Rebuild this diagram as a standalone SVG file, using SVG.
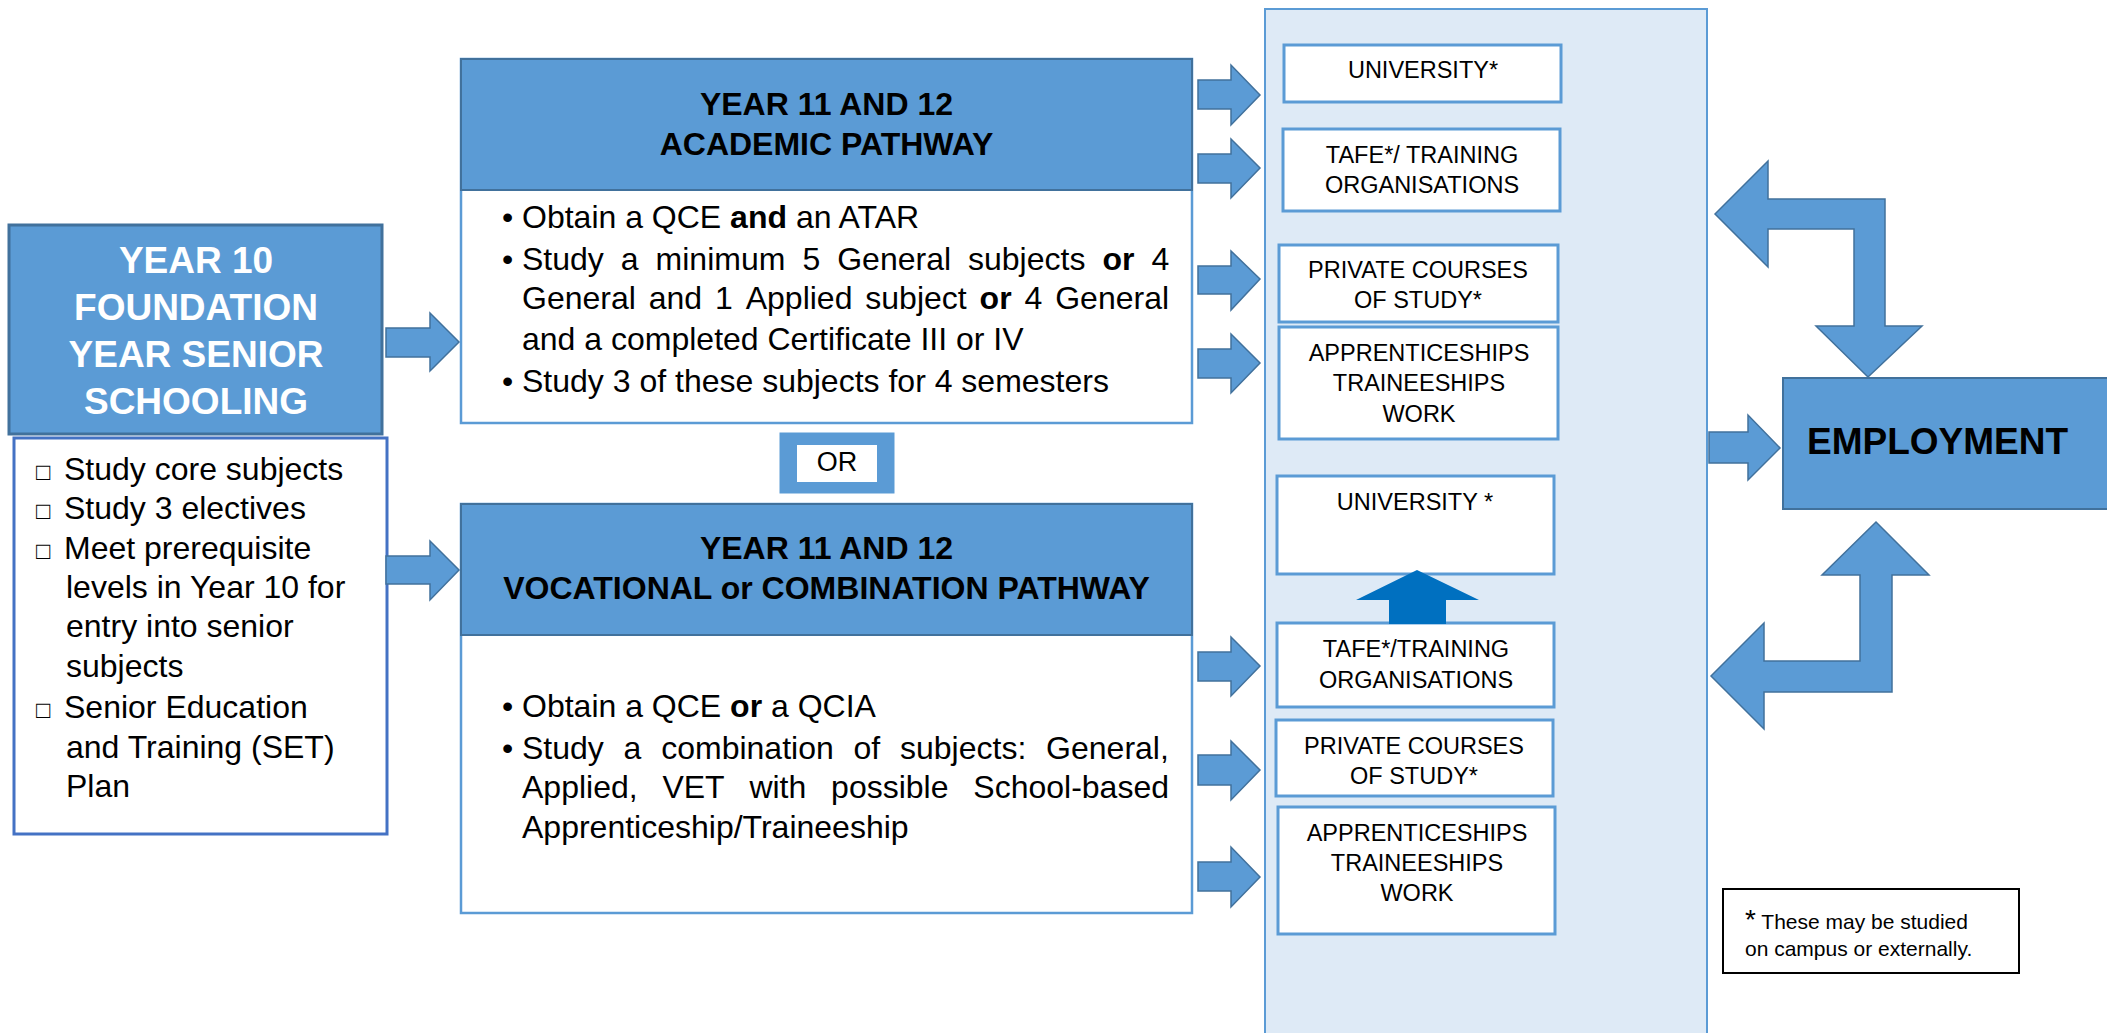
<svg xmlns="http://www.w3.org/2000/svg" width="2107" height="1033" viewBox="0 0 2107 1033">
  <style>
    text { font-family: "Liberation Sans", Arial, sans-serif; fill: #000; }
    .blue { fill: #5B9BD5; stroke: #41719C; stroke-width: 2; }
    .card { fill: #fff; stroke: #5B9BD5; stroke-width: 2.5; }
    .dest { fill: #fff; stroke: #5B9BD5; stroke-width: 3; }
    .arrow { fill: #5B9BD5; stroke: #41719C; stroke-width: 1.5; stroke-linejoin: miter; }
    .ttl { font-size: 32px; font-weight: bold; text-anchor: middle; }
    .txt { font-size: 32px; }
    .lst { font-size: 32px; }
    .sq { font-size: 24px; }
    .dt { font-size: 23.5px; text-anchor: middle; }
    b, .b { font-weight: bold; }
  </style>

  <!-- destinations panel -->
  <g id="panel">
    <rect x="1265" y="9" width="442" height="1040" fill="#DEEAF6" stroke="#5B9BD5" stroke-width="2"/>
  </g>

  <!-- Year 10 -->
  <g id="year10">
    <rect x="9" y="225" width="373" height="209" fill="#5B9BD5" stroke="#41719C" stroke-width="3"/>
    <text x="196" y="273" text-anchor="middle" font-size="37" font-weight="bold" style="fill:#fff">YEAR 10</text>
    <text x="196" y="320" text-anchor="middle" font-size="37" font-weight="bold" style="fill:#fff">FOUNDATION</text>
    <text x="196" y="367" text-anchor="middle" font-size="37" font-weight="bold" style="fill:#fff">YEAR SENIOR</text>
    <text x="196" y="414" text-anchor="middle" font-size="37" font-weight="bold" style="fill:#fff">SCHOOLING</text>
  </g>

  <g id="year10-list">
    <rect x="14" y="438" width="373" height="396" fill="#fff" stroke="#4472C4" stroke-width="3"/>
    <text class="sq" x="36" y="480">□</text>
    <text class="lst" x="64" y="480">Study core subjects</text>
    <text class="sq" x="36" y="519">□</text>
    <text class="lst" x="64" y="519">Study 3 electives</text>
    <text class="sq" x="36" y="559">□</text>
    <text class="lst" x="64" y="559">Meet prerequisite</text>
    <text class="lst" x="66" y="598">levels in Year 10 for</text>
    <text class="lst" x="66" y="637">entry into senior</text>
    <text class="lst" x="66" y="677">subjects</text>
    <text class="sq" x="36" y="718">□</text>
    <text class="lst" x="64" y="718">Senior Education</text>
    <text class="lst" x="66" y="758">and Training (SET)</text>
    <text class="lst" x="66" y="797">Plan</text>
  </g>

  <!-- Academic pathway -->
  <g id="academic">
    <rect class="card" x="461" y="59" width="731" height="364"/>
    <rect class="blue" x="461" y="59" width="731" height="131"/>
    <text class="ttl" x="826.5" y="115">YEAR 11 AND 12</text>
    <text class="ttl" x="826.5" y="155">ACADEMIC PATHWAY</text>
    <text class="txt" x="502" y="228">•</text>
    <text class="txt" x="522" y="228">Obtain a QCE <tspan class="b">and</tspan> an ATAR</text>
    <text class="txt" x="502" y="270">•</text>
    <text class="txt" y="270"><tspan x="522">Study</tspan><tspan x="620.8">a</tspan><tspan x="655.6">minimum</tspan><tspan x="802.4">5</tspan><tspan x="837.2">General</tspan><tspan x="968">subjects</tspan><tspan x="1102.4" class="b">or</tspan><tspan x="1151.4">4</tspan></text>
    <text class="txt" y="309"><tspan x="522">General</tspan><tspan x="648.7">and</tspan><tspan x="715">1</tspan><tspan x="745.7">Applied</tspan><tspan x="865.3">subject</tspan><tspan x="979.6" class="b">or</tspan><tspan x="1024.5">4</tspan><tspan x="1055.2">General</tspan></text>
    <text class="txt" x="522" y="350">and a completed Certificate III or IV</text>
    <text class="txt" x="502" y="392">•</text>
    <text class="txt" x="522" y="392">Study 3 of these subjects for 4 semesters</text>
  </g>

  <!-- OR -->
  <g id="or">
    <rect x="780" y="433" width="114" height="60" fill="#5B9BD5" stroke="#5B9BD5" stroke-width="1"/>
    <rect x="797" y="445" width="80" height="37" fill="#fff"/>
    <text x="837" y="471" text-anchor="middle" font-size="27">OR</text>
  </g>

  <!-- Vocational pathway -->
  <g id="vocational">
    <rect class="card" x="461" y="504" width="731" height="409"/>
    <rect class="blue" x="461" y="504" width="731" height="131"/>
    <text class="ttl" x="826.5" y="559">YEAR 11 AND 12</text>
    <text class="ttl" x="826.5" y="599">VOCATIONAL or COMBINATION PATHWAY</text>
    <text class="txt" x="502" y="717">•</text>
    <text class="txt" x="522" y="717">Obtain a QCE <tspan class="b">or</tspan> a QCIA</text>
    <text class="txt" x="502" y="759">•</text>
    <text class="txt" y="759"><tspan x="522">Study</tspan><tspan x="623.6">a</tspan><tspan x="661.2">combination</tspan><tspan x="853.5">of</tspan><tspan x="900">subjects:</tspan><tspan x="1046.1">General,</tspan></text>
    <text class="txt" y="798"><tspan x="522">Applied,</tspan><tspan x="662.4">VET</tspan><tspan x="749.4">with</tspan><tspan x="831.1">possible</tspan><tspan x="973.3">School-based</tspan></text>
    <text class="txt" x="522" y="838">Apprenticeship/Traineeship</text>
  </g>

  <!-- destinations after the academic pathway -->
  <g id="uni-a">
    <rect class="dest" x="1284" y="45" width="277" height="57"/>
    <text class="dt" x="1423" y="78">UNIVERSITY*</text>
  </g>
  <g id="tafe-a">
    <rect class="dest" x="1283" y="129" width="277" height="82"/>
    <text class="dt" x="1422" y="163">TAFE*/ TRAINING</text>
    <text class="dt" x="1422" y="193">ORGANISATIONS</text>
  </g>
  <g id="private-a">
    <rect class="dest" x="1279" y="245" width="279" height="77"/>
    <text class="dt" x="1418" y="278">PRIVATE COURSES</text>
    <text class="dt" x="1418" y="308">OF STUDY*</text>
  </g>
  <g id="work-a">
    <rect class="dest" x="1279" y="327" width="279" height="112"/>
    <text class="dt" x="1419" y="361">APPRENTICESHIPS</text>
    <text class="dt" x="1419" y="391">TRAINEESHIPS</text>
    <text class="dt" x="1419" y="422">WORK</text>
  </g>

  <!-- destinations after the vocational pathway -->
  <g id="uni-v">
    <rect class="dest" x="1277" y="476" width="277" height="98"/>
    <text class="dt" x="1415" y="510">UNIVERSITY *</text>
  </g>
  <g id="tafe-v">
    <rect class="dest" x="1277" y="623" width="277" height="84"/>
    <text class="dt" x="1416" y="657">TAFE*/TRAINING</text>
    <text class="dt" x="1416" y="688">ORGANISATIONS</text>
  </g>
  <g id="private-v">
    <rect class="dest" x="1276" y="720" width="277" height="76"/>
    <text class="dt" x="1414" y="754">PRIVATE COURSES</text>
    <text class="dt" x="1414" y="784">OF STUDY*</text>
  </g>
  <g id="work-v">
    <rect class="dest" x="1278" y="807" width="277" height="127"/>
    <text class="dt" x="1417" y="841">APPRENTICESHIPS</text>
    <text class="dt" x="1417" y="871">TRAINEESHIPS</text>
    <text class="dt" x="1417" y="901">WORK</text>
  </g>

  <!-- Employment -->
  <g id="employment">
    <rect x="1783" y="378" width="334" height="131" fill="#5B9BD5" stroke="#41719C" stroke-width="2"/>
    <text x="1807" y="454" font-size="37" font-weight="bold">EMPLOYMENT</text>
  </g>

  <!-- footnote -->
  <g id="note">
    <rect x="1723" y="889" width="296" height="84" fill="#fff" stroke="#000" stroke-width="2"/>
    <text x="1745" y="929" font-size="21"><tspan font-size="28">*</tspan> These may be studied</text>
    <text x="1745" y="956" font-size="21">on campus or externally.</text>
  </g>

  <!-- connectors -->
  <g id="connectors">
    <polygon class="arrow" points="386,328 430,328 430,313 459,342 430,371 430,357 386,357"/>
    <polygon class="arrow" points="386,556 430,556 430,541 459,570 430,600 430,584 386,584"/>

    <polygon class="arrow" points="1198,80 1231,80 1231,65 1260,95 1231,125 1231,109 1198,109"/>
    <polygon class="arrow" points="1198,154 1231,154 1231,139 1260,168 1231,198 1231,183 1198,183"/>
    <polygon class="arrow" points="1198,266 1231,266 1231,251 1260,279 1231,310 1231,294 1198,294"/>
    <polygon class="arrow" points="1198,349 1231,349 1231,334 1260,363 1231,393 1231,378 1198,378"/>

    <polygon class="arrow" points="1198,652 1231,652 1231,637 1260,666 1231,696 1231,681 1198,681"/>
    <polygon class="arrow" points="1198,755 1231,755 1231,741 1260,770 1231,800 1231,785 1198,785"/>
    <polygon class="arrow" points="1198,862 1231,862 1231,847 1260,877 1231,907 1231,891 1198,891"/>

    <polygon points="1417,570 1479,600 1446,600 1446,624 1389,624 1389,600 1356,600" fill="#0070C0"/>

    <polygon class="arrow" points="1709,432 1748,432 1748,415 1780,448 1748,480 1748,463 1709,463"/>

    <polygon class="arrow" points="1715,214 1768,161 1768,199 1885,199 1885,326 1922,326 1868,377 1816,326 1854,326 1854,229 1768,229 1768,267"/>
    <polygon class="arrow" points="1876,522 1929,575 1892,575 1892,692 1764,692 1764,729 1711,676 1764,623 1764,661 1860,661 1860,575 1822,575"/>
  </g>
</svg>
